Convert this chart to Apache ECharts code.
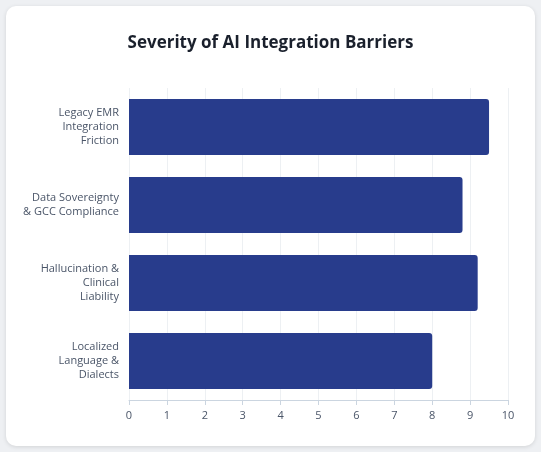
<!DOCTYPE html>
<html><head><meta charset="utf-8">
<script src="https://cdn.jsdelivr.net/npm/echarts@6/dist/echarts.min.js"></script>
<style>
html,body{margin:0;padding:0;background:#eef0f3;width:541px;height:452px;overflow:hidden}
#card{position:absolute;left:6px;top:6px;width:529px;height:440px;background:#fff;border-radius:10px;box-shadow:0 1px 4px rgba(0,0,0,0.12)}
#c{position:absolute;left:0;top:0;width:541px;height:452px}
</style></head><body>
<div id="card"></div><div id="c"></div>
<script>
const categories = ["Legacy EMR\nIntegration\nFriction","Data Sovereignty\n& GCC Compliance","Hallucination &\nClinical\nLiability","Localized\nLanguage &\nDialects"];
const severity = [9.5, 8.8, 9.2, 8.0];
const chart = echarts.init(document.getElementById('c'));
chart.setOption({
  title:{text:'Severity of AI Integration Barriers',left:'center',top:30,textStyle:{fontFamily:'Open Sans',fontSize:17,fontWeight:'bold',color:'#1a202c'}},
  grid:{left:129,right:33,top:88,bottom:52},
  xAxis:{type:'value',min:0,max:10,interval:1,
    axisLine:{show:true,lineStyle:{color:'#cbd5e0'}},axisTick:{show:true,lineStyle:{color:'#cbd5e0'}},
    axisLabel:{color:'#4a5568',fontSize:11,fontFamily:'Open Sans',margin:10},
    splitLine:{lineStyle:{color:'#edf0f3'}}},
  yAxis:{type:'category',inverse:true,data:categories,
    axisLine:{show:false},axisTick:{show:false},
    axisLabel:{color:'#4a5568',fontSize:11,fontFamily:'Open Sans',lineHeight:14,margin:10,align:'right'}},
  series:[{type:'bar',data:severity,barWidth:'72%',itemStyle:{color:'#283c8c',borderRadius:[0,3,3,0]}}]
});
</script></body></html>
